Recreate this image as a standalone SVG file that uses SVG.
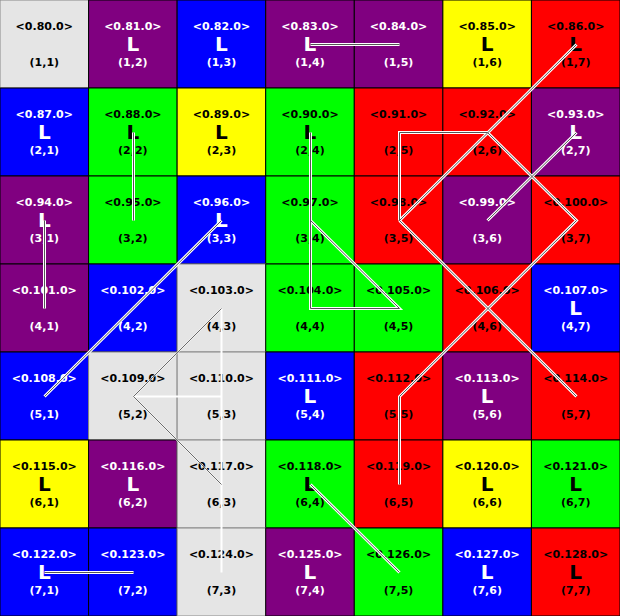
<svg xmlns="http://www.w3.org/2000/svg" width="620" height="616" viewBox="0 0 620 616">
<style>
rect{stroke:#000;stroke-width:1}
text{font-family:"DejaVu Sans","Liberation Sans",sans-serif;font-weight:bold;text-anchor:middle}
.lb,.c{font-size:11px}
.L{font-size:20px}
.gy rect{fill:#e5e5e5;stroke:#888}
.pu rect{fill:#800080}
.bl rect{fill:#0000ff}
.ye rect{fill:#ffff00}
.rd rect{fill:#ff0000}
.gr rect{fill:#00ff00}
.gy text,.ye text,.rd text,.gr text{fill:#000}
.pu text,.bl text{fill:#fff}
.co path{fill:none;stroke-linejoin:miter}
.o{stroke:#fff;stroke-width:3}
.i{stroke:#555;stroke-width:1}
.to{stroke:#fff;stroke-width:2}
.tdo{stroke:#fff;stroke-width:1.4}
.ti{stroke:#444;stroke-width:0.8}
</style>
<g id="nodes">
<g id="n1_1" class="gy" transform="translate(0,0)"><rect width="88.57" height="88"/><text class="lb" x="44.29" y="29.5">&lt;0.80.0&gt;</text><text class="c" x="44.29" y="66">(1,1)</text></g>
<g id="n1_2" class="pu" transform="translate(88.57,0)"><rect width="88.57" height="88"/><text class="lb" x="44.29" y="29.5">&lt;0.81.0&gt;</text><text class="L" x="44.29" y="51">L</text><text class="c" x="44.29" y="66">(1,2)</text></g>
<g id="n1_3" class="bl" transform="translate(177.14,0)"><rect width="88.57" height="88"/><text class="lb" x="44.29" y="29.5">&lt;0.82.0&gt;</text><text class="L" x="44.29" y="51">L</text><text class="c" x="44.29" y="66">(1,3)</text></g>
<g id="n1_4" class="pu" transform="translate(265.71,0)"><rect width="88.57" height="88"/><text class="lb" x="44.29" y="29.5">&lt;0.83.0&gt;</text><text class="L" x="44.29" y="51">L</text><text class="c" x="44.29" y="66">(1,4)</text></g>
<g id="n1_5" class="pu" transform="translate(354.29,0)"><rect width="88.57" height="88"/><text class="lb" x="44.29" y="29.5">&lt;0.84.0&gt;</text><text class="c" x="44.29" y="66">(1,5)</text></g>
<g id="n1_6" class="ye" transform="translate(442.86,0)"><rect width="88.57" height="88"/><text class="lb" x="44.29" y="29.5">&lt;0.85.0&gt;</text><text class="L" x="44.29" y="51">L</text><text class="c" x="44.29" y="66">(1,6)</text></g>
<g id="n1_7" class="rd" transform="translate(531.43,0)"><rect width="88.57" height="88"/><text class="lb" x="44.29" y="29.5">&lt;0.86.0&gt;</text><text class="L" x="44.29" y="51">L</text><text class="c" x="44.29" y="66">(1,7)</text></g>

<g id="n2_1" class="bl" transform="translate(0,88)"><rect width="88.57" height="88"/><text class="lb" x="44.29" y="29.5">&lt;0.87.0&gt;</text><text class="L" x="44.29" y="51">L</text><text class="c" x="44.29" y="66">(2,1)</text></g>
<g id="n2_2" class="gr" transform="translate(88.57,88)"><rect width="88.57" height="88"/><text class="lb" x="44.29" y="29.5">&lt;0.88.0&gt;</text><text class="L" x="44.29" y="51">L</text><text class="c" x="44.29" y="66">(2,2)</text></g>
<g id="n2_3" class="ye" transform="translate(177.14,88)"><rect width="88.57" height="88"/><text class="lb" x="44.29" y="29.5">&lt;0.89.0&gt;</text><text class="L" x="44.29" y="51">L</text><text class="c" x="44.29" y="66">(2,3)</text></g>
<g id="n2_4" class="gr" transform="translate(265.71,88)"><rect width="88.57" height="88"/><text class="lb" x="44.29" y="29.5">&lt;0.90.0&gt;</text><text class="L" x="44.29" y="51">L</text><text class="c" x="44.29" y="66">(2,4)</text></g>
<g id="n2_5" class="rd" transform="translate(354.29,88)"><rect width="88.57" height="88"/><text class="lb" x="44.29" y="29.5">&lt;0.91.0&gt;</text><text class="c" x="44.29" y="66">(2,5)</text></g>
<g id="n2_6" class="rd" transform="translate(442.86,88)"><rect width="88.57" height="88"/><text class="lb" x="44.29" y="29.5">&lt;0.92.0&gt;</text><text class="c" x="44.29" y="66">(2,6)</text></g>
<g id="n2_7" class="pu" transform="translate(531.43,88)"><rect width="88.57" height="88"/><text class="lb" x="44.29" y="29.5">&lt;0.93.0&gt;</text><text class="L" x="44.29" y="51">L</text><text class="c" x="44.29" y="66">(2,7)</text></g>

<g id="n3_1" class="pu" transform="translate(0,176)"><rect width="88.57" height="88"/><text class="lb" x="44.29" y="29.5">&lt;0.94.0&gt;</text><text class="L" x="44.29" y="51">L</text><text class="c" x="44.29" y="66">(3,1)</text></g>
<g id="n3_2" class="gr" transform="translate(88.57,176)"><rect width="88.57" height="88"/><text class="lb" x="44.29" y="29.5">&lt;0.95.0&gt;</text><text class="c" x="44.29" y="66">(3,2)</text></g>
<g id="n3_3" class="bl" transform="translate(177.14,176)"><rect width="88.57" height="88"/><text class="lb" x="44.29" y="29.5">&lt;0.96.0&gt;</text><text class="L" x="44.29" y="51">L</text><text class="c" x="44.29" y="66">(3,3)</text></g>
<g id="n3_4" class="gr" transform="translate(265.71,176)"><rect width="88.57" height="88"/><text class="lb" x="44.29" y="29.5">&lt;0.97.0&gt;</text><text class="c" x="44.29" y="66">(3,4)</text></g>
<g id="n3_5" class="rd" transform="translate(354.29,176)"><rect width="88.57" height="88"/><text class="lb" x="44.29" y="29.5">&lt;0.98.0&gt;</text><text class="c" x="44.29" y="66">(3,5)</text></g>
<g id="n3_6" class="pu" transform="translate(442.86,176)"><rect width="88.57" height="88"/><text class="lb" x="44.29" y="29.5">&lt;0.99.0&gt;</text><text class="c" x="44.29" y="66">(3,6)</text></g>
<g id="n3_7" class="rd" transform="translate(531.43,176)"><rect width="88.57" height="88"/><text class="lb" x="44.29" y="29.5">&lt;0.100.0&gt;</text><text class="c" x="44.29" y="66">(3,7)</text></g>

<g id="n4_1" class="pu" transform="translate(0,264)"><rect width="88.57" height="88"/><text class="lb" x="44.29" y="29.5">&lt;0.101.0&gt;</text><text class="c" x="44.29" y="66">(4,1)</text></g>
<g id="n4_2" class="bl" transform="translate(88.57,264)"><rect width="88.57" height="88"/><text class="lb" x="44.29" y="29.5">&lt;0.102.0&gt;</text><text class="c" x="44.29" y="66">(4,2)</text></g>
<g id="n4_3" class="gy" transform="translate(177.14,264)"><rect width="88.57" height="88"/><text class="lb" x="44.29" y="29.5">&lt;0.103.0&gt;</text><text class="c" x="44.29" y="66">(4,3)</text></g>
<g id="n4_4" class="gr" transform="translate(265.71,264)"><rect width="88.57" height="88"/><text class="lb" x="44.29" y="29.5">&lt;0.104.0&gt;</text><text class="c" x="44.29" y="66">(4,4)</text></g>
<g id="n4_5" class="gr" transform="translate(354.29,264)"><rect width="88.57" height="88"/><text class="lb" x="44.29" y="29.5">&lt;0.105.0&gt;</text><text class="c" x="44.29" y="66">(4,5)</text></g>
<g id="n4_6" class="rd" transform="translate(442.86,264)"><rect width="88.57" height="88"/><text class="lb" x="44.29" y="29.5">&lt;0.106.0&gt;</text><text class="c" x="44.29" y="66">(4,6)</text></g>
<g id="n4_7" class="bl" transform="translate(531.43,264)"><rect width="88.57" height="88"/><text class="lb" x="44.29" y="29.5">&lt;0.107.0&gt;</text><text class="L" x="44.29" y="51">L</text><text class="c" x="44.29" y="66">(4,7)</text></g>

<g id="n5_1" class="bl" transform="translate(0,352)"><rect width="88.57" height="88"/><text class="lb" x="44.29" y="29.5">&lt;0.108.0&gt;</text><text class="c" x="44.29" y="66">(5,1)</text></g>
<g id="n5_2" class="gy" transform="translate(88.57,352)"><rect width="88.57" height="88"/><text class="lb" x="44.29" y="29.5">&lt;0.109.0&gt;</text><text class="c" x="44.29" y="66">(5,2)</text></g>
<g id="n5_3" class="gy" transform="translate(177.14,352)"><rect width="88.57" height="88"/><text class="lb" x="44.29" y="29.5">&lt;0.110.0&gt;</text><text class="c" x="44.29" y="66">(5,3)</text></g>
<g id="n5_4" class="bl" transform="translate(265.71,352)"><rect width="88.57" height="88"/><text class="lb" x="44.29" y="29.5">&lt;0.111.0&gt;</text><text class="L" x="44.29" y="51">L</text><text class="c" x="44.29" y="66">(5,4)</text></g>
<g id="n5_5" class="rd" transform="translate(354.29,352)"><rect width="88.57" height="88"/><text class="lb" x="44.29" y="29.5">&lt;0.112.0&gt;</text><text class="c" x="44.29" y="66">(5,5)</text></g>
<g id="n5_6" class="pu" transform="translate(442.86,352)"><rect width="88.57" height="88"/><text class="lb" x="44.29" y="29.5">&lt;0.113.0&gt;</text><text class="L" x="44.29" y="51">L</text><text class="c" x="44.29" y="66">(5,6)</text></g>
<g id="n5_7" class="rd" transform="translate(531.43,352)"><rect width="88.57" height="88"/><text class="lb" x="44.29" y="29.5">&lt;0.114.0&gt;</text><text class="c" x="44.29" y="66">(5,7)</text></g>

<g id="n6_1" class="ye" transform="translate(0,440)"><rect width="88.57" height="88"/><text class="lb" x="44.29" y="29.5">&lt;0.115.0&gt;</text><text class="L" x="44.29" y="51">L</text><text class="c" x="44.29" y="66">(6,1)</text></g>
<g id="n6_2" class="pu" transform="translate(88.57,440)"><rect width="88.57" height="88"/><text class="lb" x="44.29" y="29.5">&lt;0.116.0&gt;</text><text class="L" x="44.29" y="51">L</text><text class="c" x="44.29" y="66">(6,2)</text></g>
<g id="n6_3" class="gy" transform="translate(177.14,440)"><rect width="88.57" height="88"/><text class="lb" x="44.29" y="29.5">&lt;0.117.0&gt;</text><text class="c" x="44.29" y="66">(6,3)</text></g>
<g id="n6_4" class="gr" transform="translate(265.71,440)"><rect width="88.57" height="88"/><text class="lb" x="44.29" y="29.5">&lt;0.118.0&gt;</text><text class="L" x="44.29" y="51">L</text><text class="c" x="44.29" y="66">(6,4)</text></g>
<g id="n6_5" class="rd" transform="translate(354.29,440)"><rect width="88.57" height="88"/><text class="lb" x="44.29" y="29.5">&lt;0.119.0&gt;</text><text class="c" x="44.29" y="66">(6,5)</text></g>
<g id="n6_6" class="ye" transform="translate(442.86,440)"><rect width="88.57" height="88"/><text class="lb" x="44.29" y="29.5">&lt;0.120.0&gt;</text><text class="L" x="44.29" y="51">L</text><text class="c" x="44.29" y="66">(6,6)</text></g>
<g id="n6_7" class="gr" transform="translate(531.43,440)"><rect width="88.57" height="88"/><text class="lb" x="44.29" y="29.5">&lt;0.121.0&gt;</text><text class="L" x="44.29" y="51">L</text><text class="c" x="44.29" y="66">(6,7)</text></g>

<g id="n7_1" class="bl" transform="translate(0,528)"><rect width="88.57" height="88"/><text class="lb" x="44.29" y="29.5">&lt;0.122.0&gt;</text><text class="L" x="44.29" y="51">L</text><text class="c" x="44.29" y="66">(7,1)</text></g>
<g id="n7_2" class="bl" transform="translate(88.57,528)"><rect width="88.57" height="88"/><text class="lb" x="44.29" y="29.5">&lt;0.123.0&gt;</text><text class="c" x="44.29" y="66">(7,2)</text></g>
<g id="n7_3" class="gy" transform="translate(177.14,528)"><rect width="88.57" height="88"/><text class="lb" x="44.29" y="29.5">&lt;0.124.0&gt;</text><text class="c" x="44.29" y="66">(7,3)</text></g>
<g id="n7_4" class="pu" transform="translate(265.71,528)"><rect width="88.57" height="88"/><text class="lb" x="44.29" y="29.5">&lt;0.125.0&gt;</text><text class="L" x="44.29" y="51">L</text><text class="c" x="44.29" y="66">(7,4)</text></g>
<g id="n7_5" class="gr" transform="translate(354.29,528)"><rect width="88.57" height="88"/><text class="lb" x="44.29" y="29.5">&lt;0.126.0&gt;</text><text class="c" x="44.29" y="66">(7,5)</text></g>
<g id="n7_6" class="bl" transform="translate(442.86,528)"><rect width="88.57" height="88"/><text class="lb" x="44.29" y="29.5">&lt;0.127.0&gt;</text><text class="L" x="44.29" y="51">L</text><text class="c" x="44.29" y="66">(7,6)</text></g>
<g id="n7_7" class="rd" transform="translate(531.43,528)"><rect width="88.57" height="88"/><text class="lb" x="44.29" y="29.5">&lt;0.128.0&gt;</text><text class="L" x="44.29" y="51">L</text><text class="c" x="44.29" y="66">(7,7)</text></g>
</g>
<g id="connectors" class="co">
<path class="o" d="M310.5 44.5H399.5"/>
<path class="o" d="M576.5 44.5L399.5 220.5"/>
<path class="o" d="M399.5 220.5V132.5H487.5L576.5 220.5L399.5 396.5V484.5"/>
<path class="o" d="M576.5 132.5L487.5 220.5"/>
<path class="o" d="M399.5 220.5L576.5 396.5"/>
<path class="o" d="M310.5 132.5V308.5H399.5L310.5 220.5"/>
<path class="o" d="M310.5 484.5L399.5 572.5"/>
<path class="o" d="M44.5 572.5H133.5"/>
<path class="o" d="M133.5 132.5V220.5"/>
<path class="o" d="M44.5 220.5V308.5"/>
<path class="o" d="M221.5 220.5L44.5 396.5"/>
<path class="i" d="M310.5 44.5H399.5"/>
<path class="i" d="M576.5 44.5L399.5 220.5"/>
<path class="i" d="M399.5 220.5V132.5H487.5L576.5 220.5L399.5 396.5V484.5"/>
<path class="i" d="M576.5 132.5L487.5 220.5"/>
<path class="i" d="M399.5 220.5L576.5 396.5"/>
<path class="i" d="M310.5 132.5V308.5H399.5L310.5 220.5"/>
<path class="i" d="M310.5 484.5L399.5 572.5"/>
<path class="i" d="M44.5 572.5H133.5"/>
<path class="i" d="M133.5 132.5V220.5"/>
<path class="i" d="M44.5 220.5V308.5"/>
<path class="i" d="M221.5 220.5L44.5 396.5"/>
<path class="to" d="M133.5 396.5H221.5M221.5 308.5V572.5"/>
<path class="tdo" d="M221.5 308.5L133.5 396.5L221.5 484.5"/>
<path class="ti" d="M221.5 308.5L133.5 396.5L221.5 484.5"/>
</g>
</svg>
